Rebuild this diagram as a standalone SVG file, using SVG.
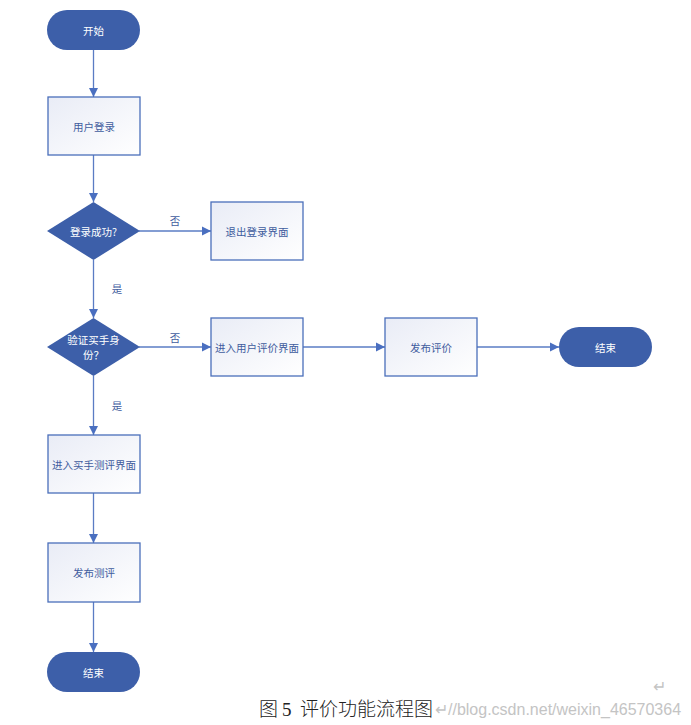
<svg xmlns="http://www.w3.org/2000/svg" width="691" height="725" viewBox="0 0 691 725">
<style>
.term{fill:#3d5fa9;}
.dia{fill:#3d5fa9;}
.box{fill:url(#g);stroke:#4a6fba;stroke-width:1.3;}
.wt{font-family:"Noto Sans CJK SC","Liberation Sans",sans-serif;font-size:10.5px;fill:#ffffff;text-anchor:middle;dominant-baseline:central;}
.bt{font-family:"Noto Sans CJK SC","Liberation Sans",sans-serif;font-size:10.5px;fill:#3f5c9e;text-anchor:middle;dominant-baseline:central;}
.lab{font-family:"Noto Sans CJK SC","Liberation Sans",sans-serif;font-size:10.5px;fill:#3f5c9e;text-anchor:middle;dominant-baseline:central;}
.ln{stroke:#5a7cc4;stroke-width:1.3;fill:none;marker-end:url(#ah);}
.cap{font-family:"Liberation Serif","Noto Sans CJK SC",serif;font-size:19px;fill:#222;font-weight:300;}
.wm{font-family:"Liberation Sans",sans-serif;font-size:16px;fill:#c4c4c4;}
</style>
<defs>
<linearGradient id="g" x1="0" y1="0" x2="1" y2="1">
<stop offset="0" stop-color="#e9ecf6"/>
<stop offset="1" stop-color="#ffffff"/>
</linearGradient>
<marker id="ah" markerWidth="10" markerHeight="10" refX="9" refY="5" orient="auto" markerUnits="userSpaceOnUse">
<path d="M0,0.5 L9,5 L0,9.5 Z" fill="#4a6fc0"/>
</marker>
</defs>
<g id="connectors">
<line class="ln" x1="93.5" y1="50" x2="93.5" y2="97"/>
<line class="ln" x1="93.5" y1="155" x2="93.5" y2="202"/>
<line class="ln" x1="139" y1="231" x2="211" y2="231"/>
<line class="ln" x1="93.5" y1="260" x2="93.5" y2="318"/>
<line class="ln" x1="139" y1="347" x2="211" y2="347"/>
<line class="ln" x1="303" y1="347" x2="385" y2="347"/>
<line class="ln" x1="477" y1="347" x2="559" y2="347"/>
<line class="ln" x1="93.5" y1="376" x2="93.5" y2="435"/>
<line class="ln" x1="93.5" y1="493" x2="93.5" y2="543"/>
<line class="ln" x1="93.5" y1="602" x2="93.5" y2="652"/>
<text class="lab" x="175" y="220">否</text>
<text class="lab" x="117" y="288">是</text>
<text class="lab" x="175" y="337">否</text>
<text class="lab" x="117" y="405">是</text>
</g>
<g id="start"><rect class="term" x="47" y="10" width="93" height="40" rx="20"/><text class="wt" x="93.5" y="30">开始</text></g>
<g id="login"><rect class="box" x="48" y="97" width="92" height="58"/><text class="bt" x="94" y="126">用户登录</text></g>
<g id="check1"><polygon class="dia" points="93.5,202 140,231 93.5,260 47,231"/><text class="wt" x="93.5" y="231">登录成功?</text></g>
<g id="logout"><rect class="box" x="211" y="202" width="92" height="58"/><text class="bt" x="257" y="231">退出登录界面</text></g>
<g id="check2"><polygon class="dia" points="93.5,318 140,347 93.5,376 47,347"/><text class="wt" x="93.5" y="339">验证买手身</text><text class="wt" x="93.5" y="354">份？</text></g>
<g id="userReview"><rect class="box" x="211" y="318" width="92" height="58"/><text class="bt" x="257" y="347">进入用户评价界面</text></g>
<g id="publishReview"><rect class="box" x="385" y="318" width="92" height="58"/><text class="bt" x="431" y="347">发布评价</text></g>
<g id="end1"><rect class="term" x="559" y="327" width="93" height="40" rx="20"/><text class="wt" x="605.5" y="347">结束</text></g>
<g id="buyerTest"><rect class="box" x="48" y="435" width="92" height="58"/><text class="bt" x="94" y="464">进入买手测评界面</text></g>
<g id="publishTest"><rect class="box" x="48" y="543" width="92" height="59"/><text class="bt" x="94" y="572">发布测评</text></g>
<g id="end2"><rect class="term" x="47" y="652" width="93" height="40" rx="20"/><text class="wt" x="93.5" y="672">结束</text></g>
<g id="caption">
<text class="cap" y="716"><tspan x="259">图</tspan><tspan x="282">5</tspan><tspan x="300">评价功能流程图</tspan></text>
<text class="wm" x="435" y="715">↵//blog.csdn.net/weixin_46570364</text>
<text class="wm" x="653" y="692">↵</text>
</g>
</svg>
